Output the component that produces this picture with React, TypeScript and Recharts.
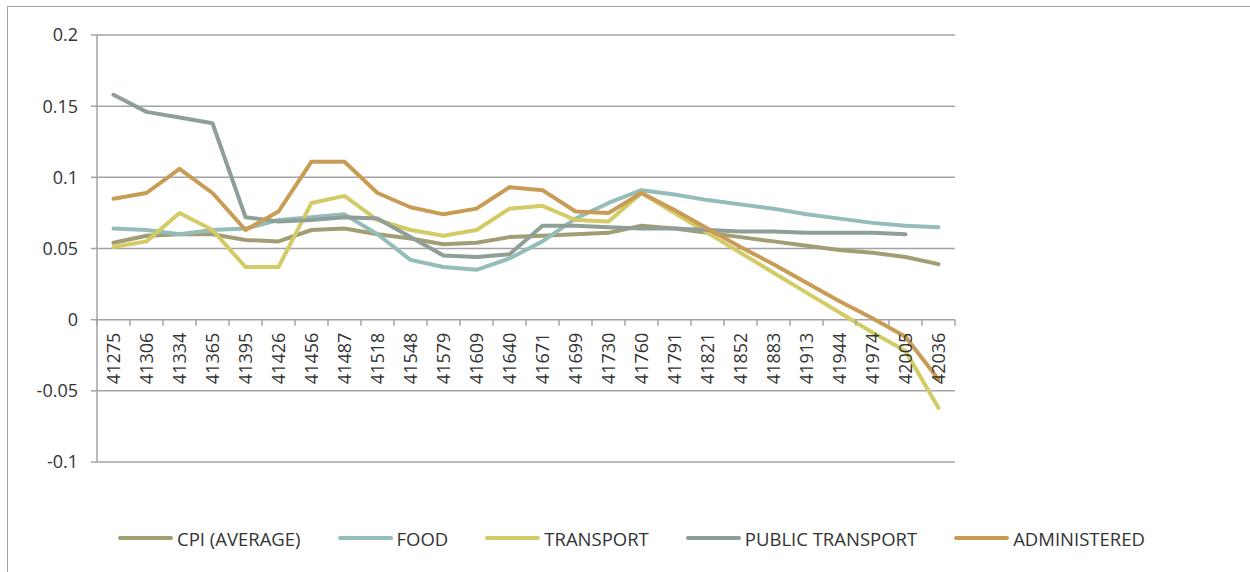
import React from 'react';
import { LineChart, Line, XAxis, YAxis, CartesianGrid, Legend } from 'recharts';

const months = [
  '41275', '41306', '41334', '41365', '41395', '41426', '41456', '41487', '41518',
  '41548', '41579', '41609', '41640', '41671', '41699', '41730', '41760', '41791',
  '41821', '41852', '41883', '41913', '41944', '41974', '42005', '42036',
];

const cpiAverage = [
  0.054, 0.059, 0.06, 0.06, 0.056, 0.055, 0.063, 0.064, 0.06, 0.057, 0.053, 0.054, 0.058,
  0.059, 0.06, 0.061, 0.066, 0.064, 0.061, 0.058, 0.055, 0.052, 0.049, 0.047, 0.044, 0.039,
];
const food = [
  0.064, 0.063, 0.06, 0.063, 0.064, 0.07, 0.072, 0.074, 0.06, 0.042, 0.037, 0.035, 0.043,
  0.055, 0.071, 0.082, 0.091, 0.088, 0.084, 0.081, 0.078, 0.074, 0.071, 0.068, 0.066, 0.065,
];
const transport = [
  0.051, 0.055, 0.075, 0.063, 0.037, 0.037, 0.082, 0.087, 0.07, 0.063, 0.059, 0.063, 0.078,
  0.08, 0.07, 0.069, 0.089, 0.075, 0.061, 0.047, 0.033, 0.019, 0.005, -0.009, -0.022, -0.062,
];
const publicTransport = [
  0.158, 0.146, 0.142, 0.138, 0.072, 0.069, 0.07, 0.072, 0.071, 0.058, 0.045, 0.044, 0.046,
  0.066, 0.066, 0.065, 0.064, 0.064, 0.063, 0.062, 0.062, 0.061, 0.061, 0.061, 0.06, null,
];
const administered = [
  0.085, 0.089, 0.106, 0.089, 0.063, 0.076, 0.111, 0.111, 0.089, 0.079, 0.074, 0.078, 0.093,
  0.091, 0.076, 0.075, 0.089, 0.077, 0.064, 0.051, 0.039, 0.026, 0.013, 0.001, -0.012, -0.042,
];

const yTicks = [-0.1, -0.05, 0, 0.05, 0.1, 0.15, 0.2];

const series = [
  { key: 'cpi', name: 'CPI (AVERAGE)', color: '#a19e74', values: cpiAverage },
  { key: 'food', name: 'FOOD', color: '#94bcb9', values: food },
  { key: 'transport', name: 'TRANSPORT', color: '#d3cb66', values: transport },
  { key: 'publicTransport', name: 'PUBLIC TRANSPORT', color: '#8f9f97', values: publicTransport },
  { key: 'administered', name: 'ADMINISTERED', color: '#c99c55', values: administered },
];

const data = months.map((month, i) => {
  const row: Record<string, string | number | null> = { month };
  series.forEach((s) => {
    row[s.key] = s.values[i];
  });
  return row;
});

const CHART_W = 1236;
const CHART_H = 565;
const MARGIN = { top: 28, right: 289, bottom: 0, left: 0 };
const Y_AXIS_W = 89;
const X_AXIS_H = 30;
const LEGEND_H = 80;
const PLOT_W = CHART_W - MARGIN.left - MARGIN.right - Y_AXIS_W;
const PLOT_H = CHART_H - MARGIN.top - MARGIN.bottom - X_AXIS_H - LEGEND_H;
const Y_MIN = -0.1;
const Y_MAX = 0.2;
const BAND = PLOT_W / months.length;
// x axis crosses at zero, so labels get lifted from the plot bottom
const ZERO_SHIFT = (PLOT_H * (0 - Y_MIN)) / (Y_MAX - Y_MIN);

const AXIS_COLOR = '#a3a3a3';
const TEXT_COLOR = '#333333';
const FONT = '"Open Sans", sans-serif';

const MonthTick = (props: any) => {
  const { x, y, payload, index } = props;
  const last = index === months.length - 1;
  return (
    <g transform={`translate(${x},${y - ZERO_SHIFT})`}>
      <line x1={-BAND / 2} x2={-BAND / 2} y1={0} y2={6} stroke={AXIS_COLOR} strokeWidth={1.5} />
      {last && <line x1={BAND / 2} x2={BAND / 2} y1={0} y2={6} stroke={AXIS_COLOR} strokeWidth={1.5} />}
      <text
        transform="rotate(-90)"
        x={-13}
        y={6}
        textAnchor="end"
        fill={TEXT_COLOR}
        fontSize={18}
        fontFamily={FONT}
      >
        {payload.value}
      </text>
    </g>
  );
};

const LegendContent = () => (
  <div
    style={{
      height: LEGEND_H,
      boxSizing: 'border-box',
      paddingTop: 33,
      paddingLeft: 110,
      display: 'flex',
      gap: 37,
      fontFamily: FONT,
      fontSize: 18.5,
      color: TEXT_COLOR,
    }}
  >
    {series.map((s) => (
      <div key={s.key} style={{ display: 'flex', alignItems: 'center', height: 26 }}>
        <span
          style={{
            display: 'inline-block',
            width: 55,
            height: 4,
            borderRadius: 2,
            background: s.color,
            marginRight: 4,
          }}
        />
        <span style={{ whiteSpace: 'nowrap' }}>{s.name}</span>
      </div>
    ))}
  </div>
);

export default function App() {
  return (
    <div
      style={{
        position: 'absolute',
        left: 7,
        top: 6,
        width: 1243,
        height: 566,
        borderTop: `1px solid ${AXIS_COLOR}`,
        borderLeft: `1px solid ${AXIS_COLOR}`,
        background: '#fff',
      }}
    >
      <LineChart width={CHART_W} height={CHART_H} data={data} margin={MARGIN}>
        <CartesianGrid vertical={false} stroke={AXIS_COLOR} strokeWidth={1.5} />
        <YAxis
          width={Y_AXIS_W}
          domain={[Y_MIN, Y_MAX]}
          ticks={yTicks}
          interval={0}
          allowDataOverflow
          tickSize={6}
          tickMargin={13}
          axisLine={{ stroke: AXIS_COLOR, strokeWidth: 1.5 }}
          tickLine={{ stroke: AXIS_COLOR, strokeWidth: 1.5 }}
          tick={{ fill: TEXT_COLOR, fontSize: 18, fontFamily: FONT }}
        />
        <XAxis
          dataKey="month"
          height={X_AXIS_H}
          interval={0}
          padding={{ left: BAND / 2, right: BAND / 2 }}
          axisLine={false}
          tickLine={false}
          tickSize={0}
          tickMargin={0}
          tick={<MonthTick />}
        />
        <Legend verticalAlign="bottom" content={<LegendContent />} wrapperStyle={{ left: 0, width: CHART_W }} />
        {series.map((s) => (
          <Line
            key={s.key}
            type="linear"
            dataKey={s.key}
            name={s.name}
            stroke={s.color}
            strokeWidth={4}
            strokeLinejoin="round"
            strokeLinecap="round"
            dot={false}
            activeDot={false}
            isAnimationActive={false}
          />
        ))}
      </LineChart>
    </div>
  );
}
